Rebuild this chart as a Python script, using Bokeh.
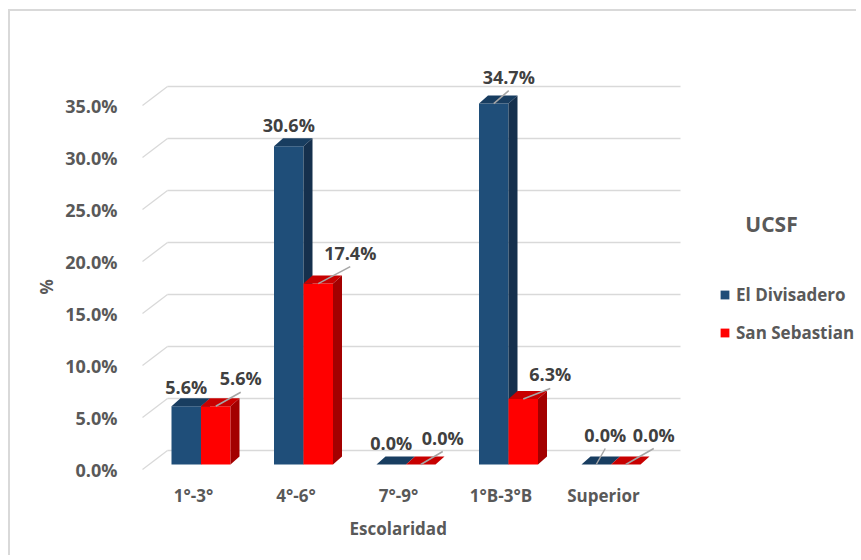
from bokeh.plotting import figure
from bokeh.models import (ColumnDataSource, Range1d, LinearAxis, FixedTicker,
                          PrintfTickFormatter, Legend, LegendItem, Label, Title)
from bokeh.core.properties import value
from bokeh.embed import file_html
from bokeh.resources import INLINE

# ---------------- data ----------------
categories = ["1°-3°", "4°-6°", "7°-9°", "1°B-3°B", "Superior"]
series_names = ["El Divisadero", "San Sebastian"]
el_divisadero = [5.6, 30.6, 0.0, 34.7, 0.0]
san_sebastian = [5.6, 17.4, 0.0, 6.3, 0.0]
y_ticks = [0, 5, 10, 15, 20, 25, 30, 35]
legend_title = "UCSF"
x_title = "Escolaridad"
y_title = "%"

# ---------------- style / layout ----------------
FONT = "Open Sans"
W, H = 848, 546
FL, FT = 120, 49
FW = W - FL
FH = 412
FB = H - FT - FH
PXX = 102.5      # px per category
PXY = 10.4       # px per percent
X0 = -63 / PXX
Y0 = -8 / PXY

blue = ["#1F4E79", "#183D60", "#15304D"]   # front, top, side
red = ["#FF0000", "#C80000", "#A30000"]
DX, DY = 9 / PXX, 8 / PXY
BW = 29.5 / PXX
SHIFT = 7.5 / PXX
GRID = "#D9D9D9"
TXT = "#595959"
LBL = "#404040"

# label offsets in px (dx, dy, leader) relative to top-front centre of each bar
label_style = [
    [(0, -19, False), (0, -21, False), (0, -22, False), (15, -27, True), (9, -30, True)],
    [(25, -28, True), (32, -31, True), (22, -27, True), (27, -24.5, True), (28, -30, True)],
]

p = figure(width=W, height=H, x_range=Range1d(X0, X0 + FW / PXX),
           y_range=Range1d(Y0, Y0 + FH / PXY),
           output_backend="svg", toolbar_location=None, tools="",
           y_axis_location=None,
           min_border_left=FL, min_border_right=0, min_border_top=FT, min_border_bottom=FB)
p.grid.visible = False
p.outline_line_color = None
p.background_fill_color = "white"
p.border_fill_color = "white"
p.styles = {"margin-left": "8px", "margin-top": "9px",
            "border-left": "2px solid #D9D9D9", "border-top": "2px solid #D9D9D9"}

# y axis (front edge of side wall, slightly below the bar plane)
sh = 5 / PXY
p.extra_y_ranges = {"tick": Range1d(Y0 + sh, Y0 + FH / PXY + sh)}
yax = LinearAxis(y_range_name="tick", ticker=FixedTicker(ticks=y_ticks),
                 formatter=PrintfTickFormatter(format="%.1f%%"))
yax.axis_line_color = None
yax.major_tick_line_color = None
yax.minor_tick_line_color = None
yax.major_label_standoff = 7
yax.major_label_text_font = FONT
yax.major_label_text_font_size = "18px"
yax.major_label_text_font_style = "bold"
yax.major_label_text_color = TXT
p.add_layout(yax, "left")
p.add_layout(Title(text=y_title, align="left", offset=178, text_font=FONT,
                   text_font_size="17px", text_font_style="bold",
                   text_color=TXT, standoff=10), "left")

# x axis
xax = p.xaxis[0]
xax.ticker = FixedTicker(ticks=list(range(len(categories))))
xax.major_label_overrides = {i: c for i, c in enumerate(categories)}
xax.axis_line_color = None
xax.major_tick_line_color = None
xax.minor_tick_line_color = None
xax.major_label_standoff = 5
xax.major_label_text_font = FONT
xax.major_label_text_font_size = "17px"
xax.major_label_text_font_style = "bold"
xax.major_label_text_color = TXT
p.add_layout(Title(text=x_title, align="left", offset=219, text_font=FONT,
                   text_font_size="17px", text_font_style="bold",
                   text_color=TXT, standoff=10), "below")

# back wall and side wall gridlines
bx0, bx1 = -26 / PXX, 487 / PXX
sx0 = -51 / PXX
back_dy, front_dy = 14 / PXY, -5 / PXY
p.segment(x0=[bx0] * len(y_ticks), x1=[bx1] * len(y_ticks),
          y0=[v + back_dy for v in y_ticks], y1=[v + back_dy for v in y_ticks],
          line_color=GRID, line_width=1.3)
p.segment(x0=[sx0] * len(y_ticks), x1=[bx0] * len(y_ticks),
          y0=[v + front_dy for v in y_ticks], y1=[v + back_dy for v in y_ticks],
          line_color=GRID, line_width=1.3)

fronts = []
series = [el_divisadero, san_sebastian]
colors = [blue, red]
for s, vals in enumerate(series):
    xc = [i + SHIFT + (s - 0.5) * BW for i in range(len(vals))]
    xl = [x - BW / 2 for x in xc]
    xr = [x + BW / 2 for x in xc]
    src = ColumnDataSource(dict(x=xc, top=vals))
    fr = p.vbar(x="x", top="top", bottom=0, width=BW, source=src,
                fill_color=colors[s][0], line_color=None)
    fronts.append(fr)
    p.patches(xs=[[a, b, b + DX, a + DX] for a, b in zip(xl, xr)],
              ys=[[v, v, v + DY, v + DY] for v in vals],
              fill_color=colors[s][1], line_color=None)
    p.patches(xs=[[b, b + DX, b + DX, b] for b in xr],
              ys=[[0, DY, v + DY, v] for v in vals],
              fill_color=colors[s][2], line_color=None)

# data labels and leader lines
for s, vals in enumerate(series):
    xc = [i + SHIFT + (s - 0.5) * BW for i in range(len(vals))]
    lx = [x + st[0] / PXX for x, st in zip(xc, label_style[s])]
    ly = [v - st[1] / PXY for v, st in zip(vals, label_style[s])]
    p.text(x=lx, y=ly, text=[f"{v:.1f}%" for v in vals], text_align="center",
           text_baseline="middle", text_font=value(FONT), text_font_size="18px",
           text_font_style="bold", text_color=LBL)
    lead = [k for k, st in enumerate(label_style[s]) if st[2]]
    p.segment(x0=[lx[k] for k in lead], y0=[ly[k] - 14 / PXY for k in lead],
              x1=[xc[k] for k in lead], y1=[vals[k] for k in lead],
              line_color="#A6A6A6", line_width=1.5)

# legend
legend = Legend(items=[LegendItem(label=series_names[0], renderers=[fronts[0]]),
                       LegendItem(label=series_names[1], renderers=[fronts[1]])],
                location=(589, 128), padding=0, margin=0, border_line_color=None,
                background_fill_alpha=0, glyph_width=11, glyph_height=11,
                label_standoff=6, spacing=15, label_height=20,
                label_text_font=FONT, label_text_font_size="17px",
                label_text_font_style="bold", label_text_color=TXT)
p.add_layout(legend, "center")
p.add_layout(Label(x=(771 - 193) / PXX, y=(464 - 223) / PXY, text=legend_title,
                   text_align="center", text_baseline="middle", text_font=FONT,
                   text_font_size="21px", text_font_style="bold", text_color=TXT))

open("out.html", "w").write(file_html(p, INLINE))
